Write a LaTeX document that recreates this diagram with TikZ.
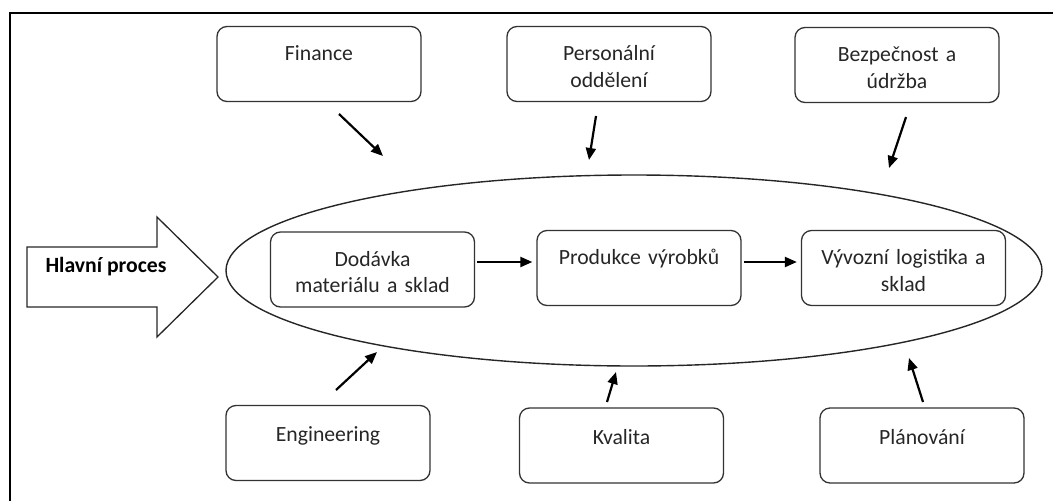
\documentclass[tikz,border=0pt]{standalone}
\usepackage{fontspec}
\setmainfont{Carlito}
\usetikzlibrary{shapes.geometric,arrows.meta,calc}
\begin{document}
\begin{tikzpicture}[x=1pt,y=-1pt,
  font=\fontsize{21.7}{26.5}\selectfont,
  unit/.style={draw=black!80, line width=1.3pt, rounded corners=10pt,
    minimum width=204pt, text width=200pt, inner sep=0pt, align=center,
    text height=34pt, text depth=41pt, text=black!85},
  lowunit/.style={unit, text height=36pt, text depth=39pt},
  link/.style={line width=2.2pt, -{Triangle[length=12pt,width=10pt]}},
]
\useasboundingbox (0,0) rectangle (1053,501);

% outer frame (left and top edges)
\draw[line width=2pt] (9.5,501) -- (9.5,13) -- (1053,13);

% main process envelope
\node[draw=black!85, line width=1.4pt, ellipse, minimum width=816pt,
      minimum height=191pt, inner sep=0pt] (proc) at (634,270.5) {};

% big input arrow with its caption
\draw[line width=1.3pt, draw=black!85, line join=miter]
  (27,247) -- (157,247) -- (157,217) -- (218,277) -- (157,337)
  -- (157,307) -- (27,307) -- cycle;
\node[font=\fontsize{21.7}{26.5}\selectfont\bfseries, text=black, inner sep=0pt]
  (main) at (106,267) {Hlavní proces};

% supporting departments, top row
\node[unit] (fin) at (319,64) {Finance};
\node[unit] (per) at (609,64) {Personální\\oddělení};
\node[unit] (bez) at (897,65) {Bezpečnost a\\údržba};

% main chain inside the envelope
\node[unit] (dod) at (372.5,269.5) {Dodávka\\materiálu a sklad};
\node[unit] (pro) at (639,268) {Produkce výrobků};
\node[unit] (vyv) at (903.5,268) {Vývozní logistika a\\sklad};

% supporting departments, bottom row
\node[lowunit] (eng) at (328,443) {Engineering};
\node[lowunit] (kva) at (621.5,445.5) {Kvalita};
\node[lowunit] (pla) at (922,445.5) {Plánování};

% chain arrows
\draw[link, shorten <=2pt, shorten >=4pt] (dod.east |- 0,262) -- (pro.west |- 0,262);
\draw[link, shorten <=2pt, shorten >=4pt] (pro.east |- 0,262) -- (vyv.west |- 0,262);

% influence arrows towards the envelope
\coordinate (finA) at (339,114);  \coordinate (finB) at (383,156);
\coordinate (perA) at (596,116);  \coordinate (perB) at (589,160);
\coordinate (bezA) at (906,117);  \coordinate (bezB) at (889,168);
\coordinate (engA) at (336,390);  \coordinate (engB) at (377,352);
\coordinate (kvaA) at (607,402);  \coordinate (kvaB) at (616,372);
\coordinate (plaA) at (923,402);  \coordinate (plaB) at (909,358);

\draw[link] (finA) -- (finB);
\draw[link] (perA) -- (perB);
\draw[link] (bezA) -- (bezB);
\draw[link] (engA) -- (engB);
\draw[link] (kvaA) -- (kvaB);
\draw[link] (plaA) -- (plaB);
\end{tikzpicture}
\end{document}
